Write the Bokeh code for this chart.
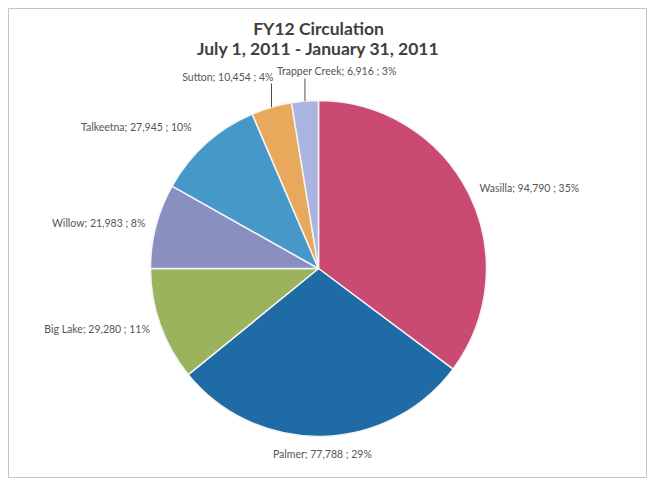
import math
from bokeh.plotting import figure
from bokeh.models import Range1d, ColumnDataSource
from bokeh.core.properties import value
from bokeh.embed import file_html
from bokeh.resources import INLINE

# ---- data ----
libraries = ["Wasilla", "Palmer", "Big Lake", "Willow", "Talkeetna", "Sutton", "Trapper Creek"]
circulation = [94790, 77788, 29280, 21983, 27945, 10454, 6916]
slice_colors = ["#cb4a72", "#1f6ba6", "#9ab35c", "#8a8fc2", "#4598c8", "#e9a95c", "#aab4de"]
title_lines = ["FY12 Circulation", "July 1, 2011 - January 31, 2011"]

# ---- layout ----
W, H = 652, 482
CX, CY_PX, R = 318, 268, 168
CY = H - CY_PX
FONT = "Lato"

p = figure(width=W, height=H, output_backend="svg", toolbar_location=None,
           x_range=Range1d(8, 646), y_range=Range1d(5, 474),
           x_axis_type=None, y_axis_type=None,
           min_border_left=8, min_border_right=6, min_border_top=8, min_border_bottom=5)
p.grid.visible = False
p.outline_line_color = "#c4c4c4"
p.outline_line_width = 1
p.background_fill_color = "white"
p.border_fill_color = "white"

total = sum(circulation)
starts, ends, mids = [], [], []
cum = 0.0
for v in circulation:
    t0 = cum / total * 2 * math.pi
    cum += v
    t1 = cum / total * 2 * math.pi
    # clockwise from top -> bokeh anticlockwise from +x
    starts.append(math.pi / 2 - t1)
    ends.append(math.pi / 2 - t0)
    mids.append((t0 + t1) / 2)

src = ColumnDataSource(dict(start=starts, end=ends, color=slice_colors, name=libraries))
p.wedge(x=CX, y=CY, radius=R, start_angle="start", end_angle="end",
        fill_color="color", line_color="#f4f4f4", line_width=1.5, source=src)

labels = []
for name, v in zip(libraries, circulation):
    pct = round(v / total * 100)
    labels.append(f"{name}; {v:,} ; {pct}%")

# per-label placement: (gap beyond radius, align, dx px, dy px)
place = {
    "Wasilla": (12, "left", 0, 0),
    "Palmer": (18, "center", 0, 0),
    "Big Lake": (11, "right", 0, 0),
    "Willow": (11, "right", 0, 0),
    "Talkeetna": (22, "right", 0, 0),
}

groups = {}
for name, lab, th in zip(libraries, labels, mids):
    if name in place:
        gap, align, ndx, ndy = place[name]
        x = CX + (R + gap) * math.sin(th) + ndx
        y = CY + (R + gap) * math.cos(th) - ndy
        groups.setdefault(align, dict(x=[], y=[], t=[]))
        groups[align]["x"].append(x)
        groups[align]["y"].append(y)
        groups[align]["t"].append(lab)

# small slices with leader lines
lead_top = {"Sutton": 83, "Trapper Creek": 78}
seg = dict(x0=[], y0=[], x1=[], y1=[])
for name, lab, th in zip(libraries, labels, mids):
    if name in lead_top:
        ex = CX + R * math.sin(th)
        ey = CY + R * math.cos(th)
        seg["x0"].append(ex)
        seg["y0"].append(ey)
        seg["x1"].append(ex)
        seg["y1"].append(H - lead_top[name])
        if name == "Sutton":
            groups.setdefault("right", dict(x=[], y=[], t=[]))
            groups["right"]["x"].append(ex + 2)
            groups["right"]["y"].append(H - 76)
            groups["right"]["t"].append(lab)
        else:
            groups.setdefault("left", dict(x=[], y=[], t=[]))
            groups["left"]["x"].append(ex - 28)
            groups["left"]["y"].append(H - 70)
            groups["left"]["t"].append(lab)

p.segment(x0="x0", y0="y0", x1="x1", y1="y1", source=ColumnDataSource(seg),
          line_color="#505050", line_width=1)

for align, d in groups.items():
    p.text(x="x", y="y", text="t", source=ColumnDataSource(d),
           text_align=align, text_baseline="middle",
           text_font=value(FONT), text_font_size="10.5px", text_color="#555555")

p.text(x=[CX, CX], y=[H - 28, H - 48], text=title_lines,
       text_align="center", text_baseline="middle",
       text_font=value(FONT), text_font_style="bold", text_font_size="17.5px",
       text_color="#404040")

open("out.html", "w").write(file_html(p, INLINE))
